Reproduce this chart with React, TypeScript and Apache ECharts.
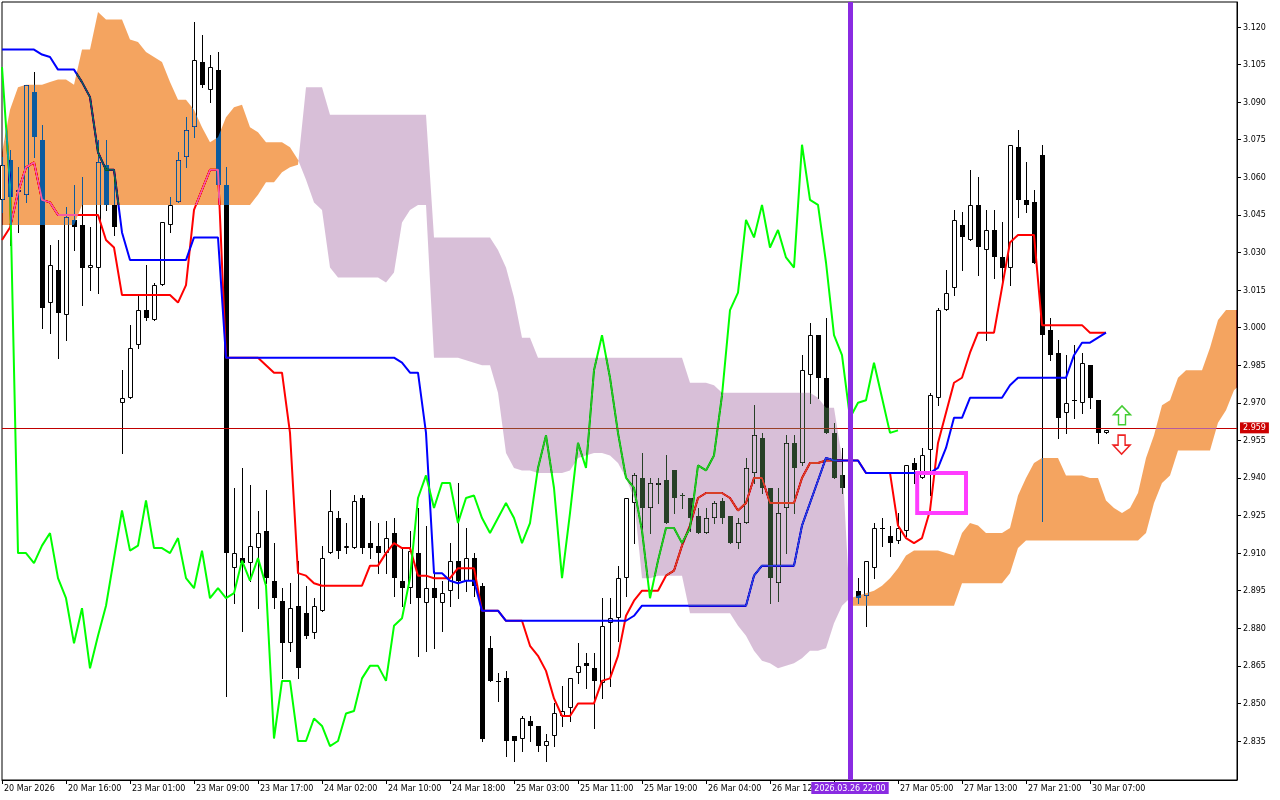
import React, { useEffect, useRef } from "react";
import * as echarts from "echarts";

// ---- Candles (hourly bars, index 0 = first visible bar) ----
const open = [
  3.051,3.067,3.054,3.053,3.094,3.075,3.010,3.023,3.005,3.043,
  3.041,3.024,3.024,3.065,3.049,2.970,2.972,2.993,3.007,3.003,
  3.017,3.041,3.050,3.068,3.080,3.106,3.095,3.103,3.057,2.904,
  2.908,2.906,2.912,2.919,2.899,2.891,2.874,2.889,2.886,2.878,
  2.887,2.910,2.924,2.912,2.912,2.932,2.914,2.913,2.910,2.918,
  2.899,2.896,2.910,2.890,2.896,2.890,2.895,2.907,2.899,2.908,
  2.897,2.872,2.859,2.860,2.837,2.836,2.843,2.841,2.833,2.837,
  2.845,2.848,2.862,2.866,2.864,2.858,2.882,2.884,2.900,2.930,
  2.940,2.928,2.937,2.939,2.943,2.933,2.932,2.925,2.918,2.924,
  2.931,2.925,2.914,2.922,2.942,2.956,2.936,2.898,2.928,2.954,
  2.946,2.981,2.997,2.980,2.958,2.941,2.936,2.895,2.893,2.904,
  2.920,2.917,2.915,2.919,2.946,2.940,2.951,2.972,3.007,3.016,
  3.041,3.035,3.049,3.031,3.039,3.028,3.024,3.072,3.051,3.050,
  3.069,2.999,2.990,2.966,2.971,2.970,2.985,2.971,2.958,
];
const high = [
  3.068,3.071,3.064,3.097,3.102,3.081,3.033,3.035,3.048,3.057,
  3.060,3.040,3.075,3.075,3.063,2.983,3.001,3.013,3.025,3.018,
  3.042,3.052,3.070,3.084,3.122,3.117,3.109,3.110,3.064,2.936,
  2.944,2.937,2.927,2.935,2.914,2.896,2.898,2.907,2.897,2.892,
  2.913,2.935,2.927,2.922,2.933,2.933,2.923,2.922,2.923,2.924,
  2.912,2.919,2.928,2.921,2.903,2.899,2.914,2.938,2.920,2.910,
  2.898,2.877,2.862,2.863,2.837,2.845,2.845,2.841,2.838,2.850,
  2.857,2.860,2.874,2.870,2.870,2.892,2.892,2.905,2.932,2.942,
  2.950,2.940,2.940,2.949,2.943,2.934,2.932,2.928,2.928,2.931,
  2.932,2.925,2.924,2.948,2.969,2.958,2.936,2.936,2.957,2.957,
  2.989,3.002,2.997,3.004,2.962,2.952,2.938,2.900,2.907,2.922,
  2.924,2.921,2.926,2.945,2.948,2.952,2.974,3.008,3.023,3.047,
  3.046,3.063,3.060,3.047,3.047,3.042,3.073,3.079,3.066,3.055,
  3.073,3.004,2.995,2.989,2.993,2.990,2.985,2.971,2.959,
];
const low = [
  3.046,3.033,3.038,3.050,3.068,3.000,2.998,2.988,2.995,3.031,
  3.009,3.015,3.014,3.047,3.037,2.950,2.972,2.992,3.003,3.003,
  3.017,3.038,3.050,3.064,3.076,3.096,3.090,3.052,2.853,2.890,
  2.879,2.899,2.888,2.898,2.888,2.860,2.871,2.860,2.876,2.876,
  2.887,2.910,2.908,2.910,2.912,2.910,2.908,2.902,2.902,2.893,
  2.889,2.890,2.869,2.871,2.872,2.879,2.889,2.892,2.895,2.893,
  2.835,2.859,2.851,2.829,2.827,2.831,2.835,2.831,2.827,2.833,
  2.841,2.843,2.858,2.856,2.840,2.852,2.857,2.875,2.893,2.914,
  2.918,2.918,2.930,2.922,2.926,2.928,2.919,2.918,2.918,2.922,
  2.922,2.914,2.912,2.922,2.938,2.934,2.890,2.891,2.910,2.926,
  2.945,2.970,2.972,2.958,2.940,2.934,2.891,2.890,2.881,2.900,
  2.913,2.909,2.914,2.917,2.938,2.940,2.933,2.969,3.007,3.013,
  3.023,3.035,3.021,2.995,3.020,3.017,3.017,3.044,3.046,3.026,
  2.923,2.987,2.956,2.958,2.964,2.966,2.968,2.954,2.958,
];
const close = [
  3.065,3.052,3.055,3.097,3.076,3.008,3.025,3.006,3.044,3.040,
  3.024,3.025,3.066,3.049,3.040,2.972,2.992,3.007,3.004,3.017,
  3.042,3.049,3.067,3.079,3.107,3.097,3.104,3.057,2.910,2.910,
  2.906,2.913,2.918,2.900,2.892,2.874,2.888,2.864,2.877,2.889,
  2.908,2.927,2.911,2.913,2.931,2.912,2.912,2.910,2.916,2.900,
  2.896,2.911,2.892,2.896,2.892,2.894,2.907,2.899,2.908,2.897,
  2.836,2.859,2.859,2.835,2.835,2.844,2.841,2.833,2.835,2.846,
  2.847,2.860,2.865,2.865,2.859,2.881,2.884,2.900,2.932,2.941,
  2.928,2.938,2.938,2.922,2.932,2.933,2.924,2.918,2.924,2.930,
  2.924,2.914,2.922,2.944,2.957,2.936,2.900,2.926,2.954,2.944,
  2.983,2.997,2.980,2.958,2.940,2.936,2.919,2.892,2.907,2.920,
  2.920,2.914,2.920,2.945,2.943,2.949,2.973,3.007,3.014,3.043,
  3.036,3.049,3.032,3.039,3.028,3.024,3.073,3.051,3.049,3.026,
  2.997,2.989,2.964,2.970,2.971,2.986,2.972,2.958,2.959,
];

// ---- Ichimoku lines ----
const tenkan = [
  3.035,3.040,3.054,3.064,3.066,3.051,3.050,3.045,3.045,3.045,
  3.045,3.045,3.045,3.035,3.032,3.013,3.013,3.013,3.013,3.013,
  3.013,3.013,3.010,3.017,3.047,3.055,3.063,3.063,2.988,2.988,
  2.988,2.988,2.988,2.985,2.982,2.982,2.958,2.902,2.901,2.898,
  2.897,2.897,2.897,2.897,2.897,2.897,2.905,2.905,2.910,2.914,
  2.912,2.912,2.901,2.901,2.900,2.900,2.900,2.904,2.904,2.904,
  2.887,2.887,2.887,2.883,2.883,2.883,2.873,2.869,2.863,2.852,
  2.845,2.845,2.850,2.850,2.850,2.859,2.860,2.869,2.885,2.891,
  2.895,2.895,2.895,2.901,2.903,2.913,2.921,2.932,2.934,2.934,
  2.934,2.932,2.927,2.930,2.940,2.940,2.930,2.930,2.930,2.930,
  2.940,2.946,2.946,2.947,2.947,2.947,2.947,2.947,2.942,2.942,
  2.942,2.942,2.921,2.916,2.914,2.916,2.927,2.954,2.966,2.978,
  2.980,2.990,2.998,2.998,2.998,3.016,3.034,3.037,3.037,3.037,
  3.001,3.001,3.001,3.001,3.001,3.001,2.998,2.998,2.998,
];
const kijun = [
  3.111,3.111,3.111,3.111,3.111,3.109,3.108,3.103,3.103,3.103,
  3.098,3.092,3.070,3.063,3.063,3.038,3.027,3.027,3.027,3.027,
  3.027,3.027,3.027,3.027,3.036,3.036,3.036,3.036,2.988,2.988,
  2.988,2.988,2.988,2.988,2.988,2.988,2.988,2.988,2.988,2.988,
  2.988,2.988,2.988,2.988,2.988,2.988,2.988,2.988,2.988,2.988,
  2.986,2.982,2.982,2.958,2.902,2.902,2.899,2.898,2.899,2.899,
  2.887,2.887,2.887,2.883,2.883,2.883,2.883,2.883,2.883,2.883,
  2.883,2.883,2.883,2.883,2.883,2.883,2.883,2.883,2.883,2.885,
  2.889,2.889,2.889,2.889,2.889,2.889,2.889,2.889,2.889,2.889,
  2.889,2.889,2.889,2.889,2.901,2.905,2.905,2.905,2.905,2.905,
  2.921,2.930,2.939,2.948,2.947,2.947,2.947,2.947,2.942,2.942,
  2.942,2.942,2.942,2.942,2.942,2.942,2.942,2.944,2.952,2.964,
  2.964,2.972,2.972,2.972,2.972,2.972,2.977,2.980,2.980,2.980,
  2.980,2.980,2.980,2.980,2.989,2.994,2.994,2.996,2.998,
];
// Senkou spans as plotted (already shifted forward), index = bar position
const spanA = [
  3.070,3.087,3.096,3.097,3.097,3.097,3.098,3.099,3.099,3.097,
  3.111,3.111,3.126,3.123,3.123,3.123,3.115,3.114,3.110,3.108,
  3.106,3.098,3.091,3.091,3.087,3.080,3.074,3.076,3.084,3.088,
  3.089,3.080,3.078,3.074,3.074,3.074,3.072,3.067,3.059,3.050,
  3.047,3.024,3.020,3.020,3.020,3.020,3.020,3.020,3.018,3.022,
  3.042,3.047,3.049,3.049,2.988,2.988,2.988,2.988,2.987,2.986,
  2.985,2.985,2.974,2.950,2.944,2.943,2.943,2.942,2.942,2.942,
  2.942,2.943,2.948,2.949,2.950,2.950,2.949,2.946,2.940,2.932,
  2.900,2.900,2.901,2.901,2.901,2.901,2.886,2.886,2.886,2.886,
  2.886,2.886,2.881,2.877,2.871,2.867,2.866,2.864,2.865,2.866,
  2.868,2.871,2.871,2.872,2.882,2.889,2.892,2.893,2.894,2.895,
  2.897,2.900,2.904,2.909,2.911,2.911,2.911,2.911,2.910,2.909,
  2.918,2.922,2.921,2.918,2.918,2.918,2.920,2.933,2.940,2.946,
  2.948,2.948,2.948,2.941,2.941,2.941,2.940,2.940,2.931,2.928,
  2.926,2.928,2.934,2.948,2.957,2.969,2.971,2.980,2.983,2.983,
  2.983,2.992,3.003,3.007,3.007,3.007,
];
const spanB = [
  3.041,3.041,3.041,3.041,3.041,3.041,3.041,3.041,3.041,3.041,
  3.049,3.049,3.049,3.049,3.049,3.049,3.049,3.049,3.049,3.049,
  3.049,3.049,3.049,3.049,3.049,3.049,3.049,3.049,3.049,3.049,
  3.049,3.049,3.053,3.058,3.058,3.062,3.064,3.065,3.096,3.096,
  3.096,3.085,3.085,3.085,3.085,3.085,3.085,3.085,3.085,3.085,
  3.085,3.085,3.085,3.085,3.036,3.036,3.036,3.036,3.036,3.036,
  3.036,3.036,3.031,3.024,3.012,2.996,2.996,2.988,2.988,2.988,
  2.988,2.988,2.988,2.988,2.988,2.988,2.988,2.988,2.988,2.988,
  2.988,2.988,2.988,2.988,2.988,2.988,2.978,2.978,2.978,2.977,
  2.974,2.974,2.974,2.974,2.974,2.974,2.974,2.974,2.974,2.974,
  2.974,2.974,2.972,2.968,2.968,2.948,2.889,2.889,2.889,2.889,
  2.889,2.889,2.889,2.889,2.889,2.889,2.889,2.889,2.889,2.889,
  2.898,2.898,2.898,2.898,2.898,2.898,2.902,2.912,2.915,2.915,
  2.915,2.915,2.915,2.915,2.915,2.915,2.915,2.915,2.915,2.915,
  2.915,2.915,2.915,2.918,2.930,2.938,2.941,2.951,2.951,2.951,
  2.951,2.951,2.962,2.967,2.975,2.978,
];

// ---- Axis ticks ----
const timeTickBars = [0, 8, 16, 24, 32, 40, 48, 56, 64, 72, 80, 88, 96, 104, 112, 120, 128, 136];
const timeLabelBars = [0, 8, 16, 24, 32, 40, 48, 56, 64, 72, 80, 88, 96, 112, 120, 128, 136];
const timeLabels = [
  "20 Mar 2026", "20 Mar 16:00", "23 Mar 01:00", "23 Mar 09:00", "23 Mar 17:00",
  "24 Mar 02:00", "24 Mar 10:00", "24 Mar 18:00", "25 Mar 03:00", "25 Mar 11:00",
  "25 Mar 19:00", "26 Mar 04:00", "26 Mar 12:00", "27 Mar 05:00", "27 Mar 13:00",
  "27 Mar 21:00", "30 Mar 07:00",
];
const priceTicks = [
  2.835, 2.85, 2.865, 2.88, 2.895, 2.91, 2.925, 2.94, 2.955, 2.97,
  2.985, 3.0, 3.015, 3.03, 3.045, 3.06, 3.075, 3.09, 3.105, 3.12,
];

// ---- Annotations ----
const currentPrice = 2.959;
const markerBar = 106;
const markerLabel = "2026.03.26 22:00";
const boxCorners = [[114.4, 2.942], [120.5, 2.926]];
const upArrowAt = [140, 2.965];
const downArrowAt = [139.95, 2.9533];

const X_MAX = 154.375;
const Y_MIN = 2.81944;
const Y_MAX = 3.12998;

const ORANGE_INV = "#0b5b9f"; // inverse of sandy brown, drawn with difference blend
const THISTLE_INV = "#274027"; // inverse of thistle

const FONT = "DejaVu Sans";

function clipRight(list: number[][]) {
  const out: number[][] = [];
  for (let i = 0; i < list.length; i++) {
    const p = list[i];
    if (p[0] <= X_MAX) out.push(p);
    else {
      if (i > 0 && list[i - 1][0] < X_MAX) {
        const q = list[i - 1];
        const t = (X_MAX - q[0]) / (p[0] - q[0]);
        out.push([X_MAX, q[1] + t * (p[1] - q[1])]);
      }
      break;
    }
  }
  return out;
}

function cloudRegions() {
  const n = Math.min(spanA.length, spanB.length);
  const regions: { sign: number; a: number[][]; b: number[][] }[] = [];
  let cur: { sign: number; a: number[][]; b: number[][] } | null = null;
  for (let i = 0; i < n; i++) {
    const s = spanA[i] >= spanB[i] ? 1 : -1;
    if (cur && s !== cur.sign) {
      const d0 = spanA[i - 1] - spanB[i - 1];
      const d1 = spanA[i] - spanB[i];
      const t = d0 / (d0 - d1);
      const x = i - 1 + t;
      const y = spanA[i - 1] + t * (spanA[i] - spanA[i - 1]);
      cur.a.push([x, y]);
      cur.b.push([x, y]);
      regions.push(cur);
      cur = { sign: s, a: [[x, y]], b: [[x, y]] };
    }
    if (!cur) cur = { sign: s, a: [], b: [] };
    cur.a.push([i, spanA[i]]);
    cur.b.push([i, spanB[i]]);
  }
  if (cur) regions.push(cur);
  return regions
    .map((r) => ({ sign: r.sign, a: clipRight(r.a), b: clipRight(r.b) }))
    .filter((r) => r.a.length > 1);
}

export default function App() {
  const ref = useRef<HTMLDivElement>(null);

  useEffect(() => {
    if (!ref.current) return;
    const chart = echarts.init(ref.current, null, { renderer: "svg" });
    const candles = open.map((o, i) => [i, o, high[i], low[i], close[i]]);
    const chikou = close.slice(26).map((v, i) => [i, v]);
    const regions = cloudRegions();

    const option: any = {
      animation: false,
      backgroundColor: "#ffffff",
      grid: {
        left: 2, top: 2, width: 1235, height: 778,
        show: true, borderColor: "#000", borderWidth: 1, backgroundColor: "transparent",
      },
      xAxis: {
        type: "value", min: 0, max: X_MAX,
        axisLine: { show: true, onZero: false, lineStyle: { color: "#000", width: 1 } },
        splitLine: { show: false },
        axisTick: { show: true, customValues: timeTickBars, length: 4, lineStyle: { color: "#000" } },
        axisLabel: {
          customValues: timeLabelBars,
          formatter: (v: number) => {
            const idx = timeLabelBars.indexOf(Math.round(v));
            return idx >= 0 ? timeLabels[idx] : "";
          },
          align: "left", margin: 4, padding: [0, 0, 0, 2],
          fontFamily: FONT, fontSize: 8, color: "#000",
        },
      },
      yAxis: {
        type: "value", position: "right", min: Y_MIN, max: Y_MAX,
        axisLine: { show: true, onZero: false, lineStyle: { color: "#000", width: 1 } },
        splitLine: { show: false },
        axisTick: { show: true, customValues: priceTicks, length: 4, lineStyle: { color: "#000" } },
        axisLabel: {
          customValues: priceTicks,
          formatter: (v: number) => v.toFixed(3),
          margin: 6, fontFamily: FONT, fontSize: 8, color: "#000",
        },
      },
      series: [
        {
          type: "custom", name: "candles", silent: true, z: 2,
          data: candles, encode: { x: 0, y: [1, 2, 3, 4] }, clip: false,
          renderItem: (params: any, api: any) => {
            const k = api.value(0), o = api.value(1), h = api.value(2), l = api.value(3), c = api.value(4);
            const pO = api.coord([k, o]);
            const pC = api.coord([k, c]);
            const pH = api.coord([k, h]);
            const pL = api.coord([k, l]);
            const col = Math.round(pO[0]);
            const yTop = Math.round(Math.min(pO[1], pC[1]));
            const yBot = Math.round(Math.max(pO[1], pC[1]));
            const children: any[] = [
              {
                type: "line",
                shape: { x1: col + 0.5, y1: Math.round(pH[1]), x2: col + 0.5, y2: Math.round(pL[1]) + 1 },
                style: { stroke: "#000", lineWidth: 1 },
              },
            ];
            if (yBot - yTop < 2) {
              children.push({ type: "rect", shape: { x: col - 2, y: yTop, width: 5, height: 1 }, style: { fill: "#000" } });
            } else if (c >= o) {
              children.push({
                type: "rect",
                shape: { x: col - 1.5, y: yTop + 0.5, width: 4, height: yBot - yTop - 1 },
                style: { fill: "#fff", stroke: "#000", lineWidth: 1 },
              });
            } else {
              children.push({ type: "rect", shape: { x: col - 2, y: yTop, width: 5, height: yBot - yTop }, style: { fill: "#000" } });
            }
            return { type: "group", children };
          },
        },
        {
          type: "line", name: "Tenkan", silent: true, z: 2, showSymbol: false, symbol: "none",
          data: tenkan.map((v, i) => [i, v]), clip: false,
          lineStyle: { color: "#ff0000", width: 2 },
          markArea: {
            silent: true, z: 10,
            itemStyle: { color: "rgba(0,0,0,0)", borderColor: "#ff3cff", borderWidth: 4 },
            label: { show: false },
            data: [[{ coord: boxCorners[0] }, { coord: boxCorners[1] }]],
          },
          markPoint: {
            silent: true, z: 10,
            label: { show: false },
            data: [
              {
                coord: upArrowAt, symbol: "path://M8.5,0 L17,9 L12,9 L12,19 L5,19 L5,9 L0,9 Z",
                symbolSize: [17, 19], itemStyle: { color: "#ffffff", borderColor: "#44cc33", borderWidth: 1.5 },
              },
              {
                coord: downArrowAt, symbol: "path://M5,0 L12,0 L12,10 L17,10 L8.5,19 L0,10 L5,10 Z",
                symbolSize: [17, 19], itemStyle: { color: "#ffffff", borderColor: "#ee2222", borderWidth: 1.5 },
              },
            ],
          },
        },
        {
          type: "line", name: "Kijun", silent: true, z: 2, showSymbol: false, symbol: "none",
          data: kijun.map((v, i) => [i, v]), clip: false,
          lineStyle: { color: "#0000ff", width: 2 },
          markLine: {
            silent: true, z: 10, symbol: ["none", "none"],
            lineStyle: { color: "#8a2be2", width: 5, type: "solid" },
            label: {
              show: true, position: "start", distance: 2, formatter: markerLabel,
              backgroundColor: "#8a2be2", color: "#ffffff", padding: [2, 3, 2, 3],
              fontFamily: FONT, fontSize: 8,
            },
            data: [{ xAxis: markerBar }],
          },
        },
        {
          type: "line", name: "Chikou", silent: true, z: 2, showSymbol: false, symbol: "none",
          data: chikou, clip: false,
          lineStyle: { color: "#00ff00", width: 2 },
          markLine: {
            silent: true, z: 2.5, symbol: ["none", "none"],
            lineStyle: { color: "#c00000", width: 1, type: "solid" },
            label: {
              show: true, position: "end", distance: 3, formatter: currentPrice.toFixed(3),
              backgroundColor: "#cc0000", color: "#ffffff", padding: [2, 3, 1, 3],
              fontFamily: FONT, fontSize: 8,
            },
            data: [{ yAxis: currentPrice }],
          },
        },
        {
          type: "custom", name: "Kumo", silent: true, z: 3, clip: false,
          data: [[0, spanA[0]]],
          renderItem: (params: any, api: any) => {
            const children = regions.map((r) => {
              const pts = r.a.concat(r.b.slice().reverse()).map((p) => api.coord(p));
              return {
                type: "polygon",
                shape: { points: pts },
                style: { fill: r.sign > 0 ? ORANGE_INV : THISTLE_INV, stroke: "none" },
              };
            });
            return { type: "group", children };
          },
        },
      ],
    };

    chart.setOption(option);
    return () => chart.dispose();
  }, []);

  const css = `
    #kumo-chart path[fill="${ORANGE_INV}"], #kumo-chart path[fill="${THISTLE_INV}"],
    #kumo-chart path[fill="rgb(11,91,159)"], #kumo-chart path[fill="rgb(39,64,39)"] {
      mix-blend-mode: difference;
    }
  `;

  return (
    <>
      <style>{css}</style>
      <div
        id="kumo-chart"
        ref={ref}
        style={{ position: "absolute", left: 0, top: 0, width: 1280, height: 800 }}
      />
    </>
  );
}
